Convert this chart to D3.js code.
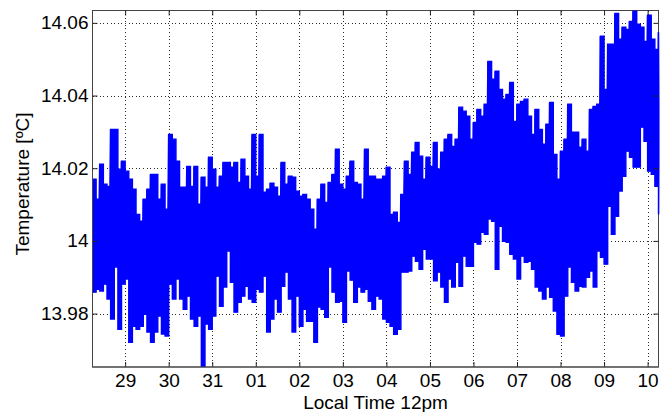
<!DOCTYPE html>
<html>
<head>
<meta charset="utf-8">
<script src="https://cdn.jsdelivr.net/npm/d3@7"></script>
<style>
  html, body { margin: 0; padding: 0; background: #fff; }
  svg { display: block; }
  .tick text { font-family: "Liberation Sans", Arial, sans-serif; font-size: 19px; fill: #000; }
  .axis-label { font-family: "Liberation Sans", Arial, sans-serif; font-size: 19px; fill: #000; }
</style>
</head>
<body>
<svg id="chart" width="661" height="412"></svg>
<script>
// Record window and sampling: upper/lower excursion per 2-hour step
const startTime = new Date(2012, 11, 28, 18, 0);
const endTime = new Date(2013, 0, 10, 18, 0);
const stepHours = 2;

// Peak temperature in each step (°C)
const hiTemp = [
  14.0170,14.0115,14.0211,14.0156,14.0150,14.0307,14.0307,14.0197,14.0219,14.0192,
  14.0170,14.0142,14.0073,14.0054,14.0115,14.0142,14.0183,14.0183,14.0115,14.0156,
  14.0087,14.0293,14.0280,14.0219,14.0148,14.0148,14.0205,14.0150,14.0205,14.0101,
  14.0175,14.0148,14.0230,14.0197,14.0148,14.0178,14.0216,14.0216,14.0203,14.0216,
  14.0161,14.0225,14.0178,14.0142,14.0293,14.0178,14.0293,14.0134,14.0142,14.0159,
  14.0148,14.0123,14.0216,14.0156,14.0178,14.0175,14.0137,14.0123,14.0128,14.0115,
  14.0087,14.0032,14.0115,14.0156,14.0106,14.0161,14.0183,14.0252,14.0156,14.0142,
  14.0178,14.0219,14.0161,14.0156,14.0115,14.0252,14.0178,14.0178,14.0170,14.0170,
  14.0178,14.0203,14.0073,14.0079,14.0051,14.0128,14.0219,14.0183,14.0244,14.0271,
  14.0233,14.0170,14.0230,14.0205,14.0271,14.0197,14.0244,14.0280,14.0293,14.0260,
  14.0280,14.0368,14.0357,14.0343,14.0280,14.0326,14.0362,14.0343,14.0376,14.0494,
  14.0445,14.0467,14.0417,14.0390,14.0403,14.0436,14.0329,14.0376,14.0384,14.0390,
  14.0343,14.0293,14.0362,14.0307,14.0266,14.0321,14.0381,14.0238,14.0170,14.0247,
  14.0280,14.0376,14.0299,14.0299,14.0258,14.0280,14.0247,14.0362,14.0370,14.0376,
  14.0563,14.0417,14.0541,14.0541,14.0626,14.0555,14.0588,14.0582,14.0604,14.0632,
  14.0596,14.0588,14.0549,14.0621,14.0555,14.0527,14.0574
];

// Trough temperature in each step (°C), one hour after the peak sample
const loTemp = [
  13.9859,13.9867,13.9862,13.9881,13.9840,13.9785,13.9928,13.9757,13.9881,13.9895,
  13.9721,13.9765,13.9757,13.9765,13.9798,13.9749,13.9721,13.9749,13.9793,13.9744,
  13.9738,13.9881,13.9840,13.9895,13.9840,13.9812,13.9848,13.9785,13.9765,13.9793,
  13.9650,13.9771,13.9757,13.9793,13.9903,13.9820,13.9873,13.9972,13.9886,13.9804,
  13.9831,13.9848,13.9875,13.9840,13.9831,13.9867,13.9859,13.9903,13.9749,13.9785,
  13.9840,13.9804,13.9875,13.9914,13.9840,13.9749,13.9848,13.9765,13.9812,13.9779,
  13.9779,13.9721,13.9818,13.9812,13.9790,13.9928,13.9859,13.9831,13.9834,13.9776,
  13.9917,13.9892,13.9831,13.9873,13.9859,13.9867,13.9834,13.9812,13.9848,13.9840,
  13.9785,13.9776,13.9765,13.9743,13.9757,13.9914,13.9914,13.9917,13.9958,13.9944,
  13.9922,13.9977,13.9950,13.9950,13.9890,13.9914,13.9873,13.9831,13.9895,13.9873,
  13.9941,13.9875,13.9958,13.9930,13.9930,13.9996,13.9991,14.0024,14.0018,14.0060,
  14.0054,13.9922,14.0040,13.9999,13.9996,13.9963,13.9950,13.9895,13.9958,13.9941,
  13.9944,13.9922,13.9873,13.9862,13.9840,13.9873,13.9845,13.9807,13.9743,13.9738,
  13.9848,13.9928,13.9886,13.9862,13.9875,13.9873,13.9900,13.9917,13.9873,13.9972,
  13.9955,13.9936,14.0095,14.0018,14.0068,14.0137,14.0178,14.0247,14.0230,14.0203,
  14.0203,14.0313,14.0274,14.0192,14.0183,14.0150,14.0073
];

// Axis ticks
const yTicks = [13.98, 14, 14.02, 14.04, 14.06];
const xTickLabels = ["29","30","31","01","02","03","04","05","06","07","08","09","10"];
const yDomain = [13.9653, 14.0634];

const svg = d3.select("#chart");
const plot = { left: 92.5, top: 10.5, right: 658.5, bottom: 367 };

const x = d3.scaleTime().domain([startTime, endTime]).range([plot.left, plot.right]);
const y = d3.scaleLinear().domain(yDomain).range([plot.bottom, plot.top]);

// Daily ticks at local noon
const tickDates = d3.timeDay.range(d3.timeDay.ceil(startTime), endTime)
  .map(d => d3.timeHour.offset(d, 12))
  .filter(d => d <= endTime);

// Per-step records and the interleaved peak/trough time series
const steps = hiTemp.map((v, i) => ({
  t: d3.timeHour.offset(startTime, i * stepHours), hi: v, lo: loTemp[i]
}));
const series = [];
steps.forEach(s => {
  series.push({ t: s.t, v: s.hi });
  series.push({ t: d3.timeHour.offset(s.t, stepHours / 2), v: s.lo });
});

// Dotted grid
const grid = svg.append("g").attr("stroke", "#2a2a2a").attr("stroke-width", 1)
  .attr("stroke-dasharray", "1,2.6").attr("shape-rendering", "crispEdges");
grid.selectAll("line.gx").data(tickDates).join("line")
  .attr("x1", d => Math.round(x(d)) + 0.5).attr("x2", d => Math.round(x(d)) + 0.5)
  .attr("y1", plot.top).attr("y2", plot.bottom);
grid.selectAll("line.gy").data(yTicks).join("line")
  .attr("x1", plot.left).attr("x2", plot.right)
  .attr("y1", d => Math.round(y(d)) + 0.5).attr("y2", d => Math.round(y(d)) + 0.5);

// Frame
svg.append("rect")
  .attr("x", plot.left).attr("y", plot.top)
  .attr("width", plot.right - plot.left).attr("height", plot.bottom - plot.top)
  .attr("fill", "none").attr("stroke", "#444").attr("stroke-width", 1);

// Temperature trace: swing band between peaks and troughs, then the trace itself
svg.append("clipPath").attr("id", "clip").append("rect")
  .attr("x", plot.left).attr("y", plot.top - 0.5)
  .attr("width", plot.right - plot.left + 1).attr("height", plot.bottom - plot.top + 0.5);

const trace = svg.append("g").attr("clip-path", "url(#clip)");

const band = d3.area().curve(d3.curveStepAfter)
  .x(d => x(d.t)).y0(d => y(d.lo)).y1(d => y(d.hi));
trace.append("path")
  .datum(steps)
  .attr("fill", "#0000ff")
  .attr("stroke", "#0000ff")
  .attr("stroke-width", 1.4)
  .attr("stroke-linejoin", "miter")
  .attr("d", band);

const line = d3.line().x(d => x(d.t)).y(d => y(d.v));
trace.append("path")
  .datum(series)
  .attr("fill", "none")
  .attr("stroke", "#0000ff")
  .attr("stroke-width", 1.6)
  .attr("stroke-linejoin", "bevel")
  .attr("d", line);

// Axes with inward ticks on all four sides
const fmtY = d => String(d);
const xAxisB = d3.axisBottom(x).tickValues(tickDates)
  .tickFormat((d, i) => xTickLabels[i]).tickSizeInner(-5).tickSizeOuter(0).tickPadding(6.5);
const xAxisT = d3.axisTop(x).tickValues(tickDates).tickFormat("").tickSizeInner(-5).tickSizeOuter(0);
const yAxisL = d3.axisLeft(y).tickValues(yTicks).tickFormat(fmtY).tickSizeInner(-5).tickSizeOuter(0).tickPadding(4);
const yAxisR = d3.axisRight(y).tickValues(yTicks).tickFormat("").tickSizeInner(-5).tickSizeOuter(0);

function styleAxis(g) {
  g.select(".domain").remove();
  g.selectAll(".tick line").attr("stroke", "#222");
  g.selectAll(".tick text").attr("font-family", null).attr("font-size", null);
}
svg.append("g").attr("transform", `translate(0,${plot.bottom})`).call(xAxisB).call(styleAxis);
svg.append("g").attr("transform", `translate(0,${plot.top})`).call(xAxisT).call(styleAxis);
svg.append("g").attr("transform", `translate(${plot.left},0)`).call(yAxisL).call(styleAxis);
svg.append("g").attr("transform", `translate(${plot.right},0)`).call(yAxisR).call(styleAxis);

// Left and bottom axis lines above the trace
svg.append("line").attr("x1", plot.left).attr("x2", plot.left)
  .attr("y1", plot.top).attr("y2", plot.bottom).attr("stroke", "#444");
svg.append("line").attr("x1", plot.left).attr("x2", plot.right)
  .attr("y1", plot.bottom).attr("y2", plot.bottom).attr("stroke", "#444");

// Axis titles
svg.append("text").attr("class", "axis-label")
  .attr("x", 375.5).attr("y", 408.5).attr("text-anchor", "middle")
  .text("Local Time 12pm");
svg.append("text").attr("class", "axis-label")
  .attr("transform", "translate(28.5,184) rotate(-90)").attr("text-anchor", "middle")
  .text("Temperature [ºC]");
</script>
</body>
</html>
